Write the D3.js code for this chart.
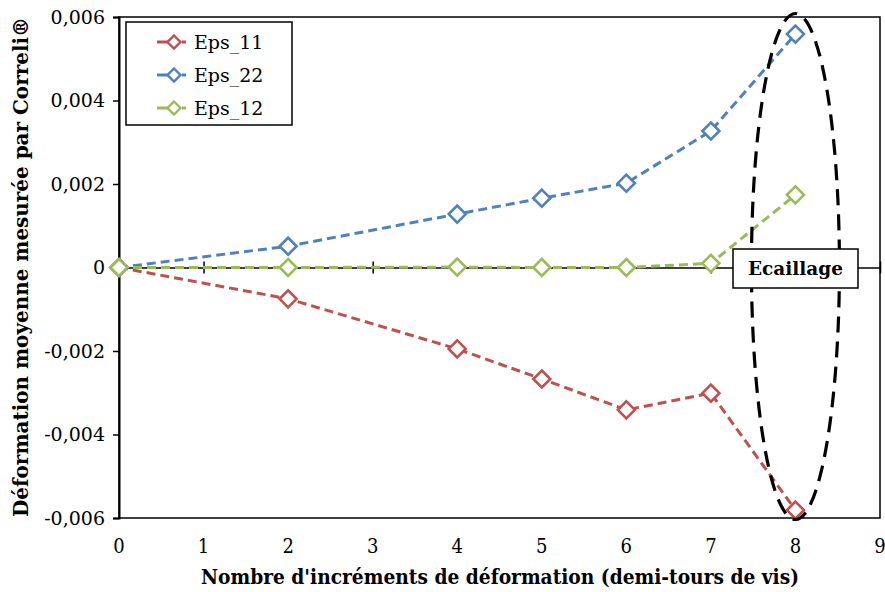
<!DOCTYPE html>
<html><head><meta charset="utf-8">
<script src="https://cdn.jsdelivr.net/npm/d3@7"></script>
<style>body{margin:0;background:#fff}svg{display:block}</style>
</head><body>
<script>
const xValues = [0, 2, 4, 5, 6, 7, 8];
const eps11 = [0, -0.00075, -0.00195, -0.00267, -0.00341, -0.00301, -0.00581];
const eps22 = [0, 0.00051, 0.00128, 0.00166, 0.00202, 0.00327, 0.00559];
const eps12 = [0, 0, 0.00001, 0, 0, 0.0001, 0.00174];
const seriesNames = ["Eps_11", "Eps_22", "Eps_12"];
const seriesColors = ["#C0504D", "#4F81BD", "#9BBB59"];
const xTicks = [0,1,2,3,4,5,6,7,8,9];
const yTicks = [-0.006,-0.004,-0.002,0,0.002,0.004,0.006];
const annotation = "Ecaillage";
const xTitle = "Nombre d'incréments de déformation (demi-tours de vis)";
const yTitle = "Déformation moyenne mesurée par Correli®";

const W=885,H=592;
const L=119,R=880,T=17,B=518;
const svg=d3.select("body").append("svg").attr("width",W).attr("height",H);
const x=d3.scaleLinear().domain([0,9]).range([L,R]);
const y=d3.scaleLinear().domain([-0.006,0.006]).range([B,T]);
const font="'DejaVu Serif', serif";
const fontC="'DejaVu Serif Condensed', 'DejaVu Serif', serif";
const fmt=v=> v===0?"0":d3.format(".3f")(v).replace(".",",").replace("−","-");

// plot border
svg.append("rect").attr("x",L).attr("y",T).attr("width",R-L).attr("height",B-T)
  .attr("fill","none").attr("stroke","#000").attr("stroke-width",1.5);

// y axis
const ya=svg.append("g").attr("transform",`translate(${L},0)`)
  .call(d3.axisLeft(y).tickValues(yTicks).tickFormat(fmt).tickSize(6).tickPadding(8));
ya.select(".domain").attr("stroke","#000").attr("stroke-width",2);
ya.selectAll("line").attr("stroke","#000").attr("stroke-width",1.5);
ya.selectAll("text").attr("font-family",font).attr("font-size",19).attr("fill","#000");

// x axis line at zero with cross ticks
const xa=svg.append("g").attr("transform",`translate(0,${y(0)})`)
  .call(d3.axisBottom(x).tickValues(xTicks).tickFormat("").tickSizeInner(6).tickSizeOuter(0));
xa.select(".domain").attr("stroke","#000").attr("stroke-width",1.5);
xa.selectAll(".tick line").attr("y1",-6).attr("y2",6).attr("stroke","#000").attr("stroke-width",1.5);

// x tick labels at bottom
svg.append("g").selectAll("text").data(xTicks).join("text")
  .attr("x",d=>x(d)).attr("y",553).attr("text-anchor","middle")
  .attr("font-family",fontC).attr("font-size",20).text(d=>d);

// titles
svg.append("text").attr("x",500).attr("y",584).attr("text-anchor","middle")
  .attr("font-family",fontC).attr("font-weight","bold").attr("font-size",20)
  .attr("textLength",598).attr("lengthAdjust","spacingAndGlyphs").text(xTitle);
svg.append("text").attr("transform","translate(28,267) rotate(-90)").attr("text-anchor","middle")
  .attr("font-family",fontC).attr("font-weight","bold").attr("font-size",20)
  .attr("textLength",500).attr("lengthAdjust","spacingAndGlyphs").text(yTitle);

// series
const allSeries=[eps11,eps22,eps12];
const line=d3.line().x((d,i)=>x(xValues[i])).y(d=>y(d));
const diamond=(cx,cy,r)=>`M${cx},${cy-r}L${cx+r},${cy}L${cx},${cy+r}L${cx-r},${cy}Z`;
[0,1,2].forEach(s=>{
  svg.append("path").datum(allSeries[s]).attr("d",line).attr("fill","none")
    .attr("stroke",seriesColors[s]).attr("stroke-width",3).attr("stroke-dasharray","9,5");
});
[0,1,2].forEach(s=>{
  svg.append("g").selectAll("path").data(allSeries[s]).join("path")
    .attr("d",(d,i)=>diamond(x(xValues[i]),y(d),8.5))
    .attr("fill","#fff").attr("stroke",seriesColors[s]).attr("stroke-width",2.6);
});

// ellipse
svg.append("ellipse").attr("cx",x(8)).attr("cy",y(0)-1).attr("rx",44).attr("ry",253)
  .attr("fill","none").attr("stroke","#000").attr("stroke-width",3.2).attr("stroke-dasharray","16,9");

// annotation box
svg.append("rect").attr("x",733).attr("y",249).attr("width",125).attr("height",39)
  .attr("fill","#fff").attr("stroke","#000").attr("stroke-width",1.5);
svg.append("text").attr("x",795.5).attr("y",275).attr("text-anchor","middle")
  .attr("font-family",font).attr("font-weight","bold").attr("font-size",19)
  .attr("textLength",95).attr("lengthAdjust","spacingAndGlyphs").text(annotation);

// legend
const lg=svg.append("g");
lg.append("rect").attr("x",126).attr("y",22).attr("width",166).attr("height",103)
  .attr("fill","#fff").attr("stroke","#000").attr("stroke-width",1.5);
seriesNames.forEach((n,i)=>{
  const cy=42+i*33;
  lg.append("line").attr("x1",157).attr("x2",192).attr("y1",cy).attr("y2",cy)
    .attr("stroke",seriesColors[i]).attr("stroke-width",3).attr("stroke-dasharray","14,5,0,6,4,100");
  lg.append("path").attr("d",diamond(174,cy,6.5)).attr("fill","#fff")
    .attr("stroke",seriesColors[i]).attr("stroke-width",2.4);
  lg.append("text").attr("x",194).attr("y",cy+7).attr("font-family",font).attr("font-size",19).text(n);
});
</script>
</body></html>
